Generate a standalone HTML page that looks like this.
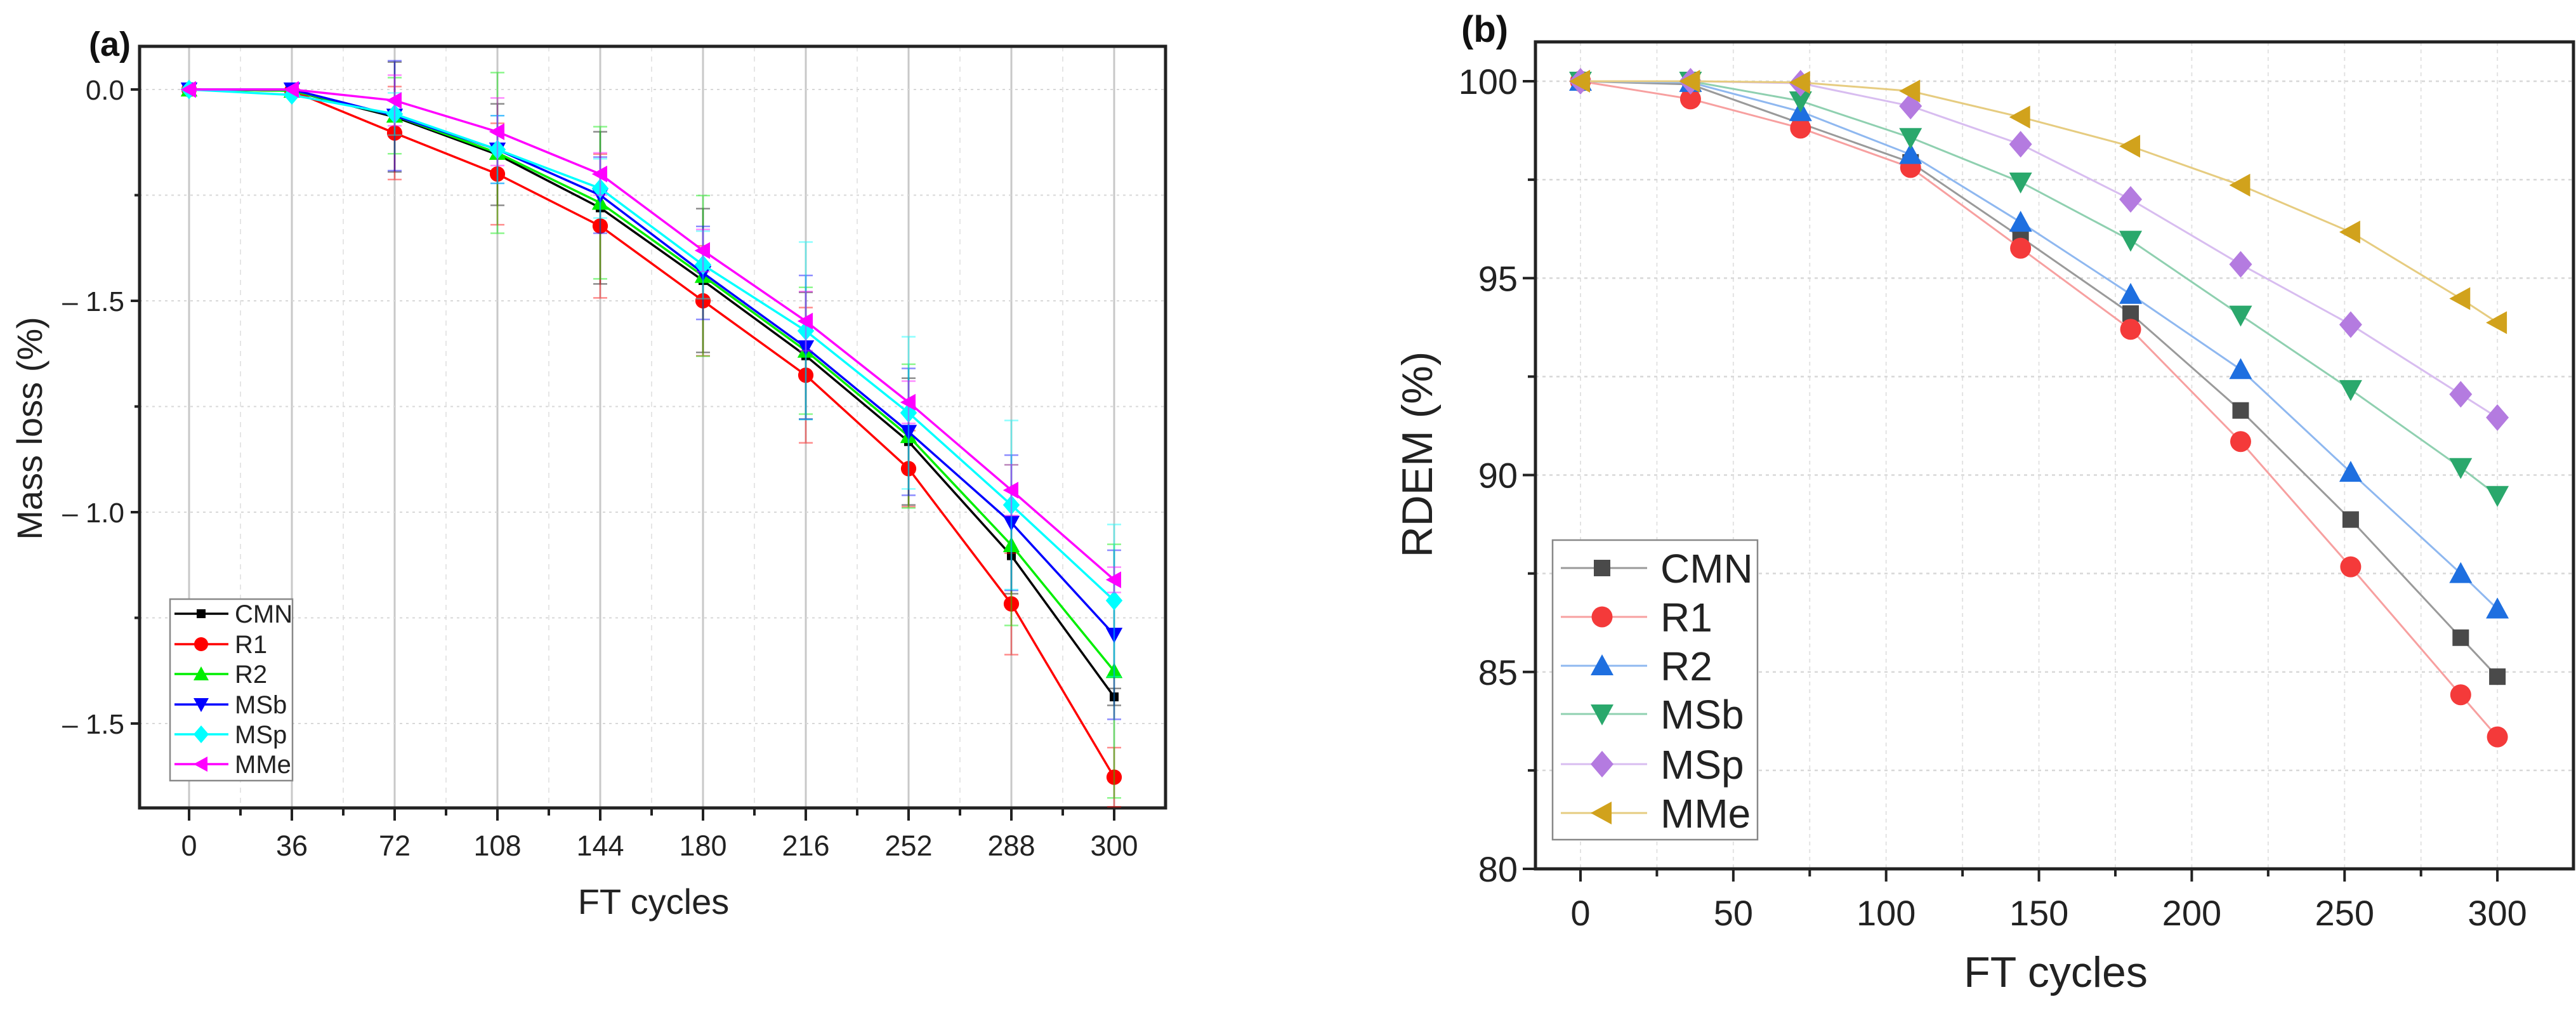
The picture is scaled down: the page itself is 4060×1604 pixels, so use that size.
<!DOCTYPE html>
<html><head><meta charset="utf-8"><style>
html,body{margin:0;padding:0;background:#fff;}
svg{display:block;font-family:"Liberation Sans",Arial,sans-serif;}
</style></head><body>
<svg id="fig" width="4060" height="1604" viewBox="0 0 4060 1604" xmlns="http://www.w3.org/2000/svg">
<g id="chartA"></g>
<g id="chartB"></g>
</svg>
<script>
// ---------- Chart (a) data ----------
const catsA = ["0","36","72","108","144","180","216","252","288","300"];
const seriesNamesA = ["CMN","R1","R2","MSb","MSp","MMe"];
const cmnA = [0,-0.003,-0.065,-0.154,-0.28,-0.452,-0.63,-0.833,-1.103,-1.437];
const r1A  = [0,-0.003,-0.103,-0.2,-0.323,-0.5,-0.676,-0.897,-1.217,-1.627];
const r2A  = [0,-0.003,-0.062,-0.15,-0.268,-0.441,-0.618,-0.82,-1.078,-1.376];
const msbA = [0,0,-0.062,-0.142,-0.25,-0.434,-0.61,-0.81,-1.025,-1.29];
const mspA = [0,-0.013,-0.058,-0.142,-0.234,-0.415,-0.571,-0.765,-0.983,-1.209];
const mmeA = [0,0,-0.026,-0.1,-0.2,-0.381,-0.548,-0.74,-0.948,-1.16];
const cmnErr = [0,0.01,0.13,0.12,0.18,0.17,0.15,0.15,0.09,0.02];
const r1Err  = [0,0.01,0.11,0.12,0.17,0.13,0.16,0.09,0.12,0.07];
const r2Err  = [0,0.01,0.09,0.19,0.18,0.19,0.15,0.17,0.19,0.30];
const msbErr = [0,0.01,0.13,0.08,0.09,0.11,0.17,0.15,0.16,0.2];
const mspErr = [0,0.01,0.05,0.08,0.07,0.08,0.21,0.18,0.2,0.18];
const mmeErr = [0,0.01,0.06,0.08,0.05,0.05,0.07,0.05,0.06,0.03];
const yTicksA = [0,-0.5,-1.0,-1.5];
const yTickLabelsA = ["0.0","– 1.5","– 1.0","– 1.5"];

// ---------- Chart (b) data ----------
const xsB = [0,36,72,108,144,180,216,252,288,300];
const cmnB = [100,99.92,98.93,97.94,96.04,94.1,91.64,88.87,85.87,84.88];
const r1B  = [100,99.55,98.81,97.81,95.76,93.7,90.85,87.67,84.42,83.35];
const r2B  = [100,99.97,99.23,98.14,96.42,94.59,92.68,90.07,87.5,86.6];
const msbB = [100,100,99.5,98.57,97.44,95.96,94.06,92.17,90.19,89.48];
const mspB = [100,100,99.95,99.37,98.4,97.0,95.35,93.82,92.05,91.46];
const mmeB = [100,100,99.97,99.75,99.09,98.35,97.36,96.17,94.48,93.87];
const xTicksB = [0,50,100,150,200,250,300];
const yTicksB = [80,85,90,95,100];

const NS="http://www.w3.org/2000/svg";
function mk(parent,tag,attrs){const e=document.createElementNS(NS,tag);for(const k in attrs)e.setAttribute(k,attrs[k]);parent.appendChild(e);return e;}
function marker(g,shape,cx,cy,r,fill){
  let e;
  if(shape==="square") e=mk(g,"rect",{x:cx-r,y:cy-r,width:2*r,height:2*r,fill:fill});
  else if(shape==="circle") e=mk(g,"circle",{cx:cx,cy:cy,r:r*1.1,fill:fill});
  else if(shape==="up") e=mk(g,"polygon",{points:`${cx},${cy-r*1.2} ${cx-r*1.2},${cy+r} ${cx+r*1.2},${cy+r}`,fill:fill});
  else if(shape==="down") e=mk(g,"polygon",{points:`${cx},${cy+r*1.2} ${cx-r*1.2},${cy-r} ${cx+r*1.2},${cy-r}`,fill:fill});
  else if(shape==="diamond") e=mk(g,"polygon",{points:`${cx},${cy-r*1.4} ${cx+r*1.2},${cy} ${cx},${cy+r*1.4} ${cx-r*1.2},${cy}`,fill:fill});
  else e=mk(g,"polygon",{points:`${cx-r*1.2},${cy} ${cx+r},${cy-r*1.2} ${cx+r},${cy+r*1.2}`,fill:fill});
  return e;
}
const shapes=["square","circle","up","down","diamond","left"];

// ================= Chart A =================
(function(){
const g=document.getElementById("chartA");
const L=220,R=1837,T=73,B=1273;
const x0=298, dx=162;
const xA=i=>x0+dx*i;
const yA=v=>141-666*v;
for(let i=0;i<catsA.length;i++){
  const l=mk(g,"line",{x1:xA(i),x2:xA(i),y1:T,y2:B,stroke:"#c8c8c8","stroke-width":3});
  
  
  if(i<catsA.length-1){const d=mk(g,"line",{x1:xA(i)+dx/2,x2:xA(i)+dx/2,y1:T,y2:B,stroke:"#e6e6e6","stroke-width":2,"stroke-dasharray":"8 8"});
  
  }
}
for(let v=0;v>=-1.6;v-=0.25){
  const l=mk(g,"line",{x1:L,x2:R,y1:yA(v),y2:yA(v),stroke:"#d8d8d8","stroke-width":2,"stroke-dasharray":"4 6"});
  
  
  const t=mk(g,"line",{x1:L-(Math.abs(v*2-Math.round(v*2))<1e-6?14:8),x2:L,y1:yA(v),y2:yA(v),stroke:"#222","stroke-width":4});
  
  
}
const fr=mk(g,"rect",{x:L,y:T,width:R-L,height:B-T,fill:"none",stroke:"#222","stroke-width":5});


for(let i=0;i<catsA.length;i++){
  const t=mk(g,"line",{x1:xA(i),x2:xA(i),y1:B,y2:B+20,stroke:"#222","stroke-width":4});
  
  
  if(i<catsA.length-1){const m=mk(g,"line",{x1:xA(i)+dx/2,x2:xA(i)+dx/2,y1:B,y2:B+12,stroke:"#222","stroke-width":4});
  
  }
  const lb=mk(g,"text",{x:xA(i),y:1348,"text-anchor":"middle","font-size":45,fill:"#222"});
  lb.textContent=catsA[i];
  
  
}
for(let k=0;k<yTicksA.length;k++){
  const lb=mk(g,"text",{x:196,y:yA(yTicksA[k])+16,"text-anchor":"end","font-size":44,fill:"#222"});
  lb.textContent=yTickLabelsA[k];
  
  
}
const vals=[cmnA,r1A,r2A,msbA,mspA,mmeA];
const errs=[cmnErr,r1Err,r2Err,msbErr,mspErr,mmeErr];
const cols=["#000000","#ff0000","#00ee00","#0000ff","#00ffff","#ff00ff"];
for(let s=0;s<vals.length;s++){
  const sg=mk(g,"g",{});
  
  
  for(let i=0;i<vals[s].length;i++){
    if(errs[s][i]>0.015){
      const top=yA(vals[s][i]+errs[s][i]), bot=yA(vals[s][i]-errs[s][i]);
      const eb=mk(sg,"path",{d:`M${xA(i)},${top}V${bot}M${xA(i)-11},${top}h22M${xA(i)-11},${bot}h22`,stroke:cols[s],"stroke-width":2.5,opacity:0.45,fill:"none"});
      
      
    }
  }
  const pts=vals[s].map((v,i)=>xA(i)+","+yA(v)).join(" ");
  const pl=mk(sg,"polyline",{points:pts,fill:"none",stroke:cols[s],"stroke-width":3.5});
  
  
  for(let i=0;i<vals[s].length;i++){
    const m=marker(sg,shapes[s],xA(i),yA(vals[s][i]),s===0?7:11,cols[s]);
    
    
  }
}
const lg=mk(g,"g",{});


const lb=mk(lg,"rect",{x:268,y:944,width:193,height:286,fill:"#fff",stroke:"#888","stroke-width":2.5});


const rowsA=[967,1015,1062,1110,1157,1204];
for(let s=0;s<6;s++){
  const e=mk(lg,"g",{});
  
  
  mk(e,"line",{x1:275,x2:360,y1:rowsA[s],y2:rowsA[s],stroke:cols[s],"stroke-width":3.5});
  marker(e,shapes[s],317,rowsA[s],s===0?7:10,cols[s]);
  const t=mk(e,"text",{x:370,y:rowsA[s]+14,"font-size":40,fill:"#222"});
  t.textContent=seriesNamesA[s];
}
const xt=mk(g,"text",{x:1030,y:1440,"text-anchor":"middle","font-size":56,fill:"#222"});
xt.textContent="FT cycles";


const yt=mk(g,"text",{x:0,y:0,"text-anchor":"middle","font-size":56,fill:"#222",transform:"translate(66,675) rotate(-90)"});
yt.textContent="Mass loss (%)";


const pa=mk(g,"text",{x:140,y:88,"font-size":54,"font-weight":"bold",fill:"#111"});
pa.textContent="(a)";


})();

// ================= Chart B =================
(function(){
const g=document.getElementById("chartB");
const L=2420,R=4056,T=66,B=1369;
const xB=v=>2491+v*4.817;
const yB=v=>1369-(v-80)*62.05;
for(let v=0;v<=325;v+=25){
  if(xB(v)>R)break;
  const l=mk(g,"line",{x1:xB(v),x2:xB(v),y1:T,y2:B,stroke:"#e3e3e3","stroke-width":2,"stroke-dasharray":"6 6"});
  
  
  const t=mk(g,"line",{x1:xB(v),x2:xB(v),y1:B,y2:B+(v%50===0?20:12),stroke:"#222","stroke-width":4});
  
  
}
for(let v=80;v<=100;v+=2.5){
  const l=mk(g,"line",{x1:L,x2:R,y1:yB(v),y2:yB(v),stroke:"#d8d8d8","stroke-width":2.5,"stroke-dasharray":"5 6"});
  
  
  const t=mk(g,"line",{x1:L-(v%5===0?20:12),x2:L,y1:yB(v),y2:yB(v),stroke:"#222","stroke-width":4});
  
  
}
const fr=mk(g,"rect",{x:L,y:T,width:R-L,height:B-T,fill:"none",stroke:"#222","stroke-width":5});


for(const v of xTicksB){
  const t=mk(g,"text",{x:xB(v),y:1458,"text-anchor":"middle","font-size":56,fill:"#222"});
  t.textContent=String(v);
  
  
}
for(const v of yTicksB){
  const t=mk(g,"text",{x:2392,y:yB(v)+20,"text-anchor":"end","font-size":56,fill:"#222"});
  t.textContent=String(v);
  
  
}
const vals=[cmnB,r1B,r2B,msbB,mspB,mmeB];
const mcols=["#4a4a4a","#f43a3a","#1e6fe0","#2aa86c","#b47be0","#d1a21c"];
const lcols=["#9a9a9a","#f7a0a0","#8fb8f0","#8fd0b0","#d8bdf0","#e6cc80"];
for(let s=0;s<6;s++){
  const sg=mk(g,"g",{});
  
  
  const pts=vals[s].map((v,i)=>xB(xsB[i])+","+yB(v)).join(" ");
  const pl=mk(sg,"polyline",{points:pts,fill:"none",stroke:lcols[s],"stroke-width":3});
  
  
  for(let i=0;i<vals[s].length;i++){
    const m=marker(sg,shapes[s],xB(xsB[i]),yB(vals[s][i]),s===0?13:15,mcols[s]);
    
    
  }
}
const lg=mk(g,"g",{});


const lb=mk(lg,"rect",{x:2447,y:851,width:323,height:472,fill:"#fff",stroke:"#888","stroke-width":2.5});


const rowsB=[895,972,1049,1125,1204,1281];
for(let s=0;s<6;s++){
  const e=mk(lg,"g",{});
  
  
  mk(e,"line",{x1:2460,x2:2596,y1:rowsB[s],y2:rowsB[s],stroke:lcols[s],"stroke-width":3});
  marker(e,shapes[s],2525,rowsB[s],s===0?13:15,mcols[s]);
  const t=mk(e,"text",{x:2617,y:rowsB[s]+23,"font-size":64,fill:"#222"});
  t.textContent=seriesNamesA[s];
}
const xt=mk(g,"text",{x:3240,y:1555,"text-anchor":"middle","font-size":68,fill:"#222"});
xt.textContent="FT cycles";


const yt=mk(g,"text",{x:0,y:0,"text-anchor":"middle","font-size":68,fill:"#222",transform:"translate(2257,716) rotate(-90)"});
yt.textContent="RDEM (%)";


const pb=mk(g,"text",{x:2303,y:66,"font-size":58,"font-weight":"bold",fill:"#111"});
pb.textContent="(b)";


})();
</script>
</body></html>
